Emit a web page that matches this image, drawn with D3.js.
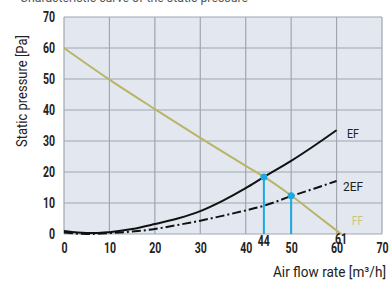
<!DOCTYPE html>
<html>
<head>
<meta charset="utf-8">
<script src="https://cdn.jsdelivr.net/npm/d3@7"></script>
<style>
body { margin:0; background:#fff; }
text { font-family:Roboto,sans-serif; }
</style>
</head>
<body>
<div id="container"></div>
<script>
// tick values
var xTicks = [0,10,20,30,40,50,60,70];
var yTicks = [0,10,20,30,40,50,60,70];

// FF curve (fan)
var ffX = [0,10,20,30,40,44,50,55,61];
var ffY = [60,49.8,40.3,31,22,18.5,12.4,6.8,0];

// EF curve
var efX = [0,3,7,10,15,20,25,30,35,40,44,50,55,60];
var efY = [1,0.5,0.3,0.6,1.6,3.2,5,7.4,10.8,14.8,18.4,23.6,28.4,33.5];

// 2EF curve
var ef2X = [0,5,10,15,20,25,30,35,40,44,50,55,60];
var ef2Y = [0.5,0,0.3,0.8,1.6,2.9,4.3,5.9,7.6,9.1,12.2,14.6,17.1];

// operating points
var opX = [44,50];
var opY = [18.4,12.3];
var opLabels = ["44","61"];
var opLabelX = [44,61];

var W = 389, H = 283;
var margin = {left:64, top:17, right:7, bottom:49};

var svg = d3.select("#container").append("svg")
	.attr("width",W)
	.attr("height",H);

var x = d3.scaleLinear().domain([0,70]).range([margin.left, W-margin.right]);
var y = d3.scaleLinear().domain([0,70]).range([H-margin.bottom, margin.top]);

// narrow the glyphs, the original uses a condensed face
var squeeze = function(sel,k) {
	sel.each(function() {
		var w = this.getComputedTextLength();
		d3.select(this).attr("textLength",w*k).attr("lengthAdjust","spacingAndGlyphs");
	});
	return sel;
}
var fit = function(sel,len) {
	sel.attr("textLength",len).attr("lengthAdjust","spacingAndGlyphs");
	return sel;
}

// caption cut off at top
svg.append("text").attr("x",20).attr("y",2)
	.attr("font-size",12).attr("fill","#555")
	.text("Characteristic curve of the static pressure").call(fit,228);

// plot background
svg.append("rect")
	.attr("x",x(0)).attr("y",y(70))
	.attr("width",x(70)-x(0)).attr("height",y(0)-y(70))
	.attr("fill","#e3e8f0");

// grid
svg.append("g").selectAll("line").data(xTicks).enter().append("line")
	.attr("x1",function(d){return x(d);}).attr("x2",function(d){return x(d);})
	.attr("y1",y(0)).attr("y2",y(70))
	.attr("stroke","#a0a6ad").attr("stroke-width",1.2);
svg.append("g").selectAll("line").data(yTicks).enter().append("line")
	.attr("y1",function(d){return y(d);}).attr("y2",function(d){return y(d);})
	.attr("x1",x(0)).attr("x2",x(70))
	.attr("stroke","#a0a6ad").attr("stroke-width",1.2);

// axes labels
var xAxis = d3.axisBottom(x).tickValues(xTicks).tickSize(0).tickPadding(9);
var gx = svg.append("g").attr("transform","translate(0,"+y(0)+")").call(xAxis);
gx.select(".domain").remove();
gx.attr("font-family",null);
gx.selectAll("text").attr("font-size",14).attr("font-weight","bold").attr("fill","#222")
	.call(squeeze,0.75);

var yAxis = d3.axisLeft(y).tickValues(yTicks).tickSize(0).tickPadding(9);
var gy = svg.append("g").attr("transform","translate("+x(0)+",0)").call(yAxis);
gy.select(".domain").remove();
gy.attr("font-family",null);
gy.selectAll("text").attr("font-size",14).attr("font-weight","bold").attr("fill","#222")
	.call(squeeze,0.75);

var line = d3.line()
	.x(function(d){return x(d[0]);})
	.y(function(d){return y(d[1]);})
	.curve(d3.curveMonotoneX);

var ffData = d3.zip(ffX,ffY);
var efData = d3.zip(efX,efY);
var ef2Data = d3.zip(ef2X,ef2Y);

svg.append("path").datum(ffData).attr("d",line)
	.attr("fill","none").attr("stroke","#b9b567").attr("stroke-width",2);
svg.append("path").datum(efData).attr("d",line)
	.attr("fill","none").attr("stroke","#111").attr("stroke-width",2);
svg.append("path").datum(ef2Data).attr("d",line)
	.attr("fill","none").attr("stroke","#111").attr("stroke-width",2)
	.attr("stroke-dasharray","9,3,2,3");

// operating points
var opData = d3.zip(opX,opY);
svg.append("g").selectAll("line").data(opData).enter().append("line")
	.attr("x1",function(d){return x(d[0]);}).attr("x2",function(d){return x(d[0]);})
	.attr("y1",function(d){return y(d[1]);}).attr("y2",y(0))
	.attr("stroke","#1aa9e1").attr("stroke-width",2);
svg.append("g").selectAll("circle").data(opData).enter().append("circle")
	.attr("cx",function(d){return x(d[0]);}).attr("cy",function(d){return y(d[1]);})
	.attr("r",3.5).attr("fill","#1aa9e1");

svg.append("g").selectAll("text").data(d3.zip(opLabelX,opLabels)).enter().append("text")
	.attr("x",function(d){return x(d[0]);}).attr("y",function(d,i){return y(0)+(i==0?12:10);})
	.attr("text-anchor","middle").attr("font-size",14).attr("font-weight","bold").attr("fill","#222")
	.text(function(d){return d[1];}).call(squeeze,0.75);

// curve labels
svg.append("text").attr("x",347).attr("y",y(31)).attr("font-size",13.5)
	.attr("fill","#222").text("EF").call(fit,12);
svg.append("text").attr("x",343).attr("y",y(14)).attr("font-size",13.5)
	.attr("fill","#222").text("2EF").call(fit,20);
svg.append("text").attr("x",352).attr("y",y(3)).attr("font-size",13.5)
	.attr("fill","#c9c57c").text("FF").call(fit,11);

// axis titles
svg.append("text")
	.attr("transform","translate(27,91) rotate(-90)")
	.attr("text-anchor","middle").attr("font-size",14.5).attr("fill","#222")
	.text("Static pressure [Pa]").call(fit,112);
svg.append("text").attr("x",386).attr("y",277)
	.attr("text-anchor","end").attr("font-size",14.5).attr("fill","#222")
	.text("Air flow rate [m³/h]").call(fit,113);
</script>
</body>
</html>
